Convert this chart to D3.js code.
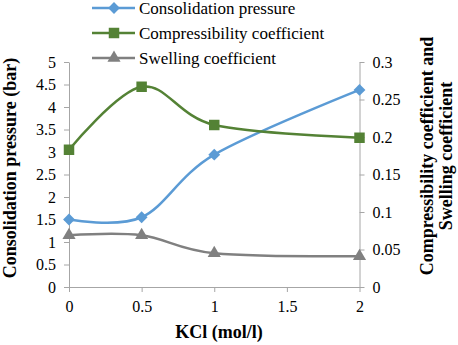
<!DOCTYPE html>
<html><head><meta charset="utf-8">
<script src="https://cdn.jsdelivr.net/npm/d3@7"></script>
<style>body{margin:0;background:#fff}svg{display:block}</style>
</head><body>
<svg id="c" width="458" height="345"></svg>
<script>
const kcl = [0, 0.5, 1, 2];
const consolidation = [1.5, 1.55, 2.94, 4.38];
const compressibility = [0.183, 0.267, 0.216, 0.199];
const swelling = [0.069, 0.069, 0.045, 0.041];
const xTicks = [0, 0.5, 1, 1.5, 2];
const yLeftTicks = [0, 0.5, 1, 1.5, 2, 2.5, 3, 3.5, 4, 4.5, 5];
const yRightTicks = [0, 0.05, 0.1, 0.15, 0.2, 0.25, 0.3];
const seriesNames = ["Consolidation pressure", "Compressibility coefficient", "Swelling coefficient"];
const colors = ["#5b9bd5", "#548235", "#808080"];

// pick an installed serif font if one exists
const cv = document.createElement("canvas").getContext("2d");
function w(f){ cv.font = "16px " + f; return cv.measureText("Consolidation pressure Wgil").width; }
const candidates = ["Liberation Serif", "Times New Roman", "Tinos", "DejaVu Serif", "Noto Serif", "FreeSerif", "Nimbus Roman", "Times"];
let picked = null;
for (const c of candidates) {
  const a = w(`"${c}", monospace`), b = w("monospace");
  const a2 = w(`"${c}", sans-serif`), b2 = w("sans-serif");
  if (a !== b || a2 !== b2) { picked = c; break; }
}
const FONT = (picked ? `"${picked}", ` : "") + "serif";

const svg = d3.select("#c");
const x = d3.scaleLinear().domain([0, 2]).range([69, 359.5]);
const yL = d3.scaleLinear().domain([0, 5]).range([287, 62]);
const yR = d3.scaleLinear().domain([0, 0.3]).range([287, 62]);
const axisColor = "#a6a6a6";

function styleAxis(g){
  g.attr("font-family", null).attr("font-size", null);
  g.selectAll("path,line").attr("stroke", axisColor).attr("stroke-width", 1);
  g.selectAll("text").style("font-family", FONT).style("font-size", "16px").attr("fill", "#000");
}
svg.append("g").attr("transform","translate(0,287)")
  .call(d3.axisBottom(x).tickValues(xTicks).tickSize(5).tickSizeOuter(0).tickPadding(9).tickFormat(d3.format("")))
  .call(styleAxis);
svg.append("g").attr("transform","translate(69,0)")
  .call(d3.axisLeft(yL).tickValues(yLeftTicks).tickSize(5).tickSizeOuter(0).tickPadding(8).tickFormat(d3.format("")))
  .call(styleAxis);
svg.append("g").attr("transform","translate(359.5,0)")
  .call(d3.axisRight(yR).tickValues(yRightTicks).tickSize(5).tickSizeOuter(0).tickPadding(8).tickFormat(d3.format("")))
  .call(styleAxis);

const curve = d3.curveCardinal.tension(0);
const series = [
  {vals: consolidation, y: yL, sym: d3.symbolDiamond, size: 70},
  {vals: compressibility, y: yR, sym: d3.symbolSquare, size: 110},
  {vals: swelling, y: yR, sym: d3.symbolTriangle, size: 75}
];
function markerPath(s){
  return s.sym === d3.symbolDiamond ? d3.symbol().type(d3.symbolSquare).size(s.size)() : d3.symbol().type(s.sym).size(s.size)();
}
series.forEach((s, i) => {
  const pts = kcl.map((k, j) => [x(k), s.y(s.vals[j])]);
  svg.append("path").attr("d", d3.line().curve(curve)(pts))
    .attr("fill", "none").attr("stroke", colors[i]).attr("stroke-width", 2.5);
  svg.selectAll(null).data(pts).join("path")
    .attr("d", markerPath(s))
    .attr("transform", d => `translate(${d[0]},${d[1]})` + (s.sym === d3.symbolDiamond ? " rotate(45)" : ""))
    .attr("fill", colors[i]);
});

// legend
const legY = [8, 33, 58];
seriesNames.forEach((n, i) => {
  svg.append("line").attr("x1", 92).attr("x2", 135).attr("y1", legY[i]).attr("y2", legY[i])
    .attr("stroke", colors[i]).attr("stroke-width", 2.5);
  const s = series[i];
  svg.append("path").attr("d", markerPath(s))
    .attr("transform", `translate(114,${legY[i]})` + (s.sym === d3.symbolDiamond ? " rotate(45)" : ""))
    .attr("fill", colors[i]);
  svg.append("text").attr("x", 139).attr("y", legY[i] + 6)
    .style("font-family", FONT).style("font-size", "17px").text(n);
});

// axis titles
function title(t, tr){
  return svg.append("text").attr("transform", tr).attr("text-anchor", "middle")
    .style("font-family", FONT).style("font-size", "18px").style("font-weight", "bold").text(t);
}
title("KCl (mol/l)", "translate(219,338)");
title("Consolidation pressure (bar)", "translate(16,168) rotate(-90)");
title("Compressibility coefficient and", "translate(433,156) rotate(-90)");
title("Swelling coefficient", "translate(452,156) rotate(-90)");
</script>
</body></html>
